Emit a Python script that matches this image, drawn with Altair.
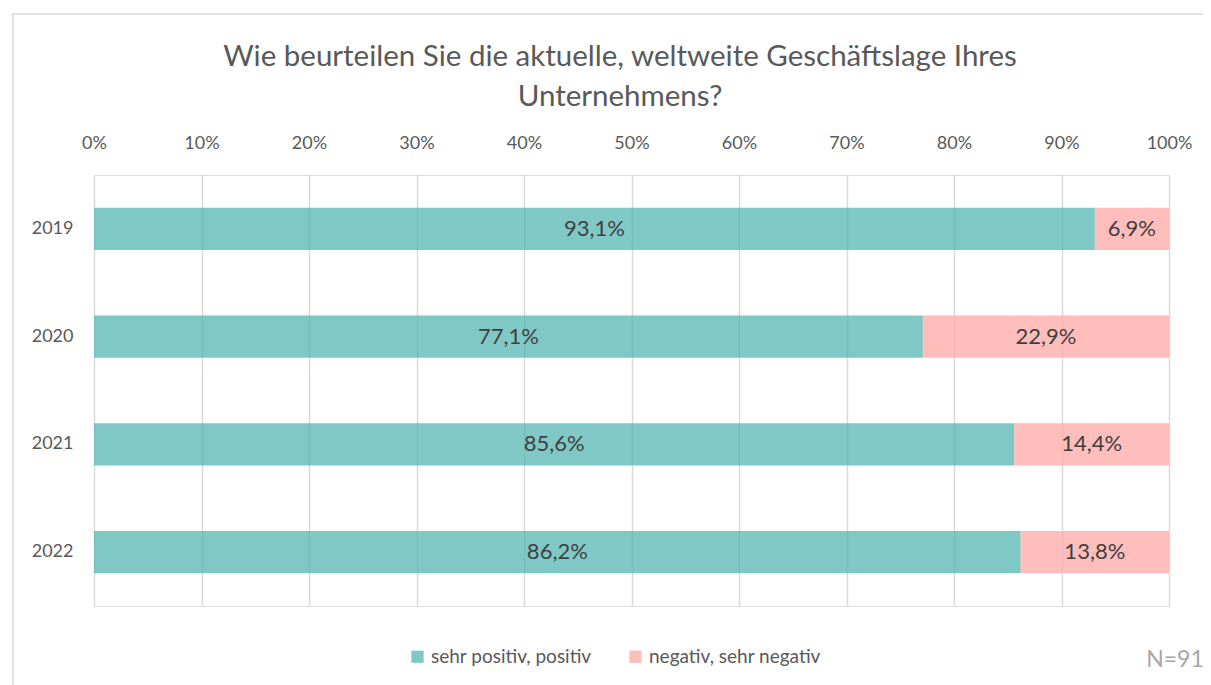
import altair as alt
import pandas as pd

years = ["2019", "2020", "2021", "2022"]
positive = [93.1, 77.1, 85.6, 86.2]
negative = [6.9, 22.9, 14.4, 13.8]
series = ["sehr positiv, positiv", "negativ, sehr negativ"]
colors = ["#56b6b2", "#ffa7a4"]
title_lines = ["Wie beurteilen Sie die aktuelle, weltweite Geschäftslage Ihres", "Unternehmens?"]
n_label = "N=91"

rows = []
for y, p, n in zip(years, positive, negative):
    rows.append({"year": y, "cat": series[0], "order": 0, "value": p,
                 "label": f"{p:.1f}".replace(".", ",") + "%"})
    rows.append({"year": y, "cat": series[1], "order": 1, "value": n,
                 "label": f"{n:.1f}".replace(".", ",") + "%"})
df = pd.DataFrame(rows)

FONT = "Lato"
GREY = "#595959"

base = alt.Chart(df)

yenc = alt.Y("year:N", sort=years,
             scale=alt.Scale(paddingInner=0.61, paddingOuter=0.305),
             axis=alt.Axis(title=None, domain=False, ticks=False, grid=False,
                           labelFontSize=18, labelColor=GREY, labelFont=FONT,
                           labelPadding=21))

bars = base.mark_bar(opacity=0.75).encode(
    x=alt.X("value:Q", stack="zero",
            scale=alt.Scale(domain=[0, 100], nice=False),
            axis=alt.Axis(orient="top", title=None, values=list(range(0, 101, 10)),
                          labelExpr="datum.value + '%'", domain=False, ticks=False,
                          grid=True, gridColor="#d9d9d9", gridWidth=1.5,
                          labelFlush=False, labelOverlap=False,
                          labelFontSize=18, labelColor=GREY, labelFont=FONT,
                          labelPadding=23)),
    y=yenc,
    color=alt.Color("cat:N", sort=series,
                    scale=alt.Scale(domain=series, range=colors),
                    legend=alt.Legend(title=None, orient="none", legendX=314, legendY=472,
                                      direction="horizontal", columns=2, columnPadding=34,
                                      symbolType="square", symbolSize=150,
                                      symbolOpacity=0.75, symbolStrokeWidth=0,
                                      labelFontSize=19, labelColor=GREY, labelFont=FONT,
                                      labelOffset=4, labelLimit=0)),
    order=alt.Order("order:Q"),
)

texts = base.transform_stack(
    stack="value", groupby=["year"], as_=["x0", "x1"],
    sort=[alt.SortField("order", order="ascending")]
).transform_calculate(mid="(datum.x0 + datum.x1) / 2").mark_text(
    fontSize=22, color="#404040", font=FONT
).encode(
    x=alt.X("mid:Q"),
    y=alt.Y("year:N", sort=years),
    text="label:N",
)

tdf = pd.DataFrame({"t": title_lines, "i": [0, 1]})
title1 = alt.Chart(tdf).transform_filter("datum.i == 0").mark_text(
    fontSize=29.5, color=GREY, font=FONT, align="center", baseline="middle").encode(
    x=alt.value(526), y=alt.value(-118), text="t:N")
title2 = alt.Chart(tdf).transform_filter("datum.i == 1").mark_text(
    fontSize=29.5, color=GREY, font=FONT, align="center", baseline="middle").encode(
    x=alt.value(526), y=alt.value(-78), text="t:N")

ndf = pd.DataFrame({"t": [n_label]})
ntext = alt.Chart(ndf).mark_text(fontSize=23, color="#a6a6a6", font=FONT,
                                 align="center", baseline="middle").encode(
    x=alt.value(1081), y=alt.value(485), text="t:N")

border = alt.Chart(ndf).mark_rect(fill=None, stroke="#d9d9d9", strokeWidth=1.5).encode(
    x=alt.value(-81), x2=alt.value(1300), y=alt.value(-161), y2=alt.value(700))

chart = alt.layer(border, bars, texts, title1, title2, ntext).properties(
    width=1075, height=431,
    autosize=alt.AutoSizeParams(type="none"),
    padding={"left": 86, "top": 167, "right": 34, "bottom": 79},
).configure_view(stroke=None).configure(background="white")

chart.save("out.html", embed_options={"renderer": "svg", "actions": False})
